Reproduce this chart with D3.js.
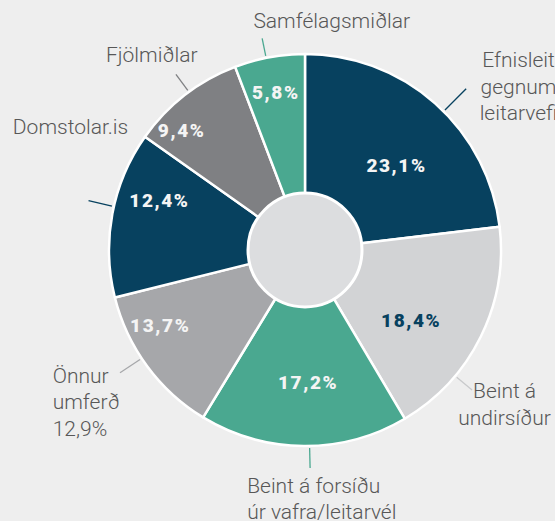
<!DOCTYPE html>
<html>
<head>
<meta charset="utf-8">
<script src="https://cdn.jsdelivr.net/npm/d3@7"></script>
<style>
  html, body { margin: 0; padding: 0; background: #eeeeee; }
  #chart { width: 555px; height: 521px; overflow: hidden; }
</style>
</head>
<body>
<div id="chart"></div>
<script>
// slice data, clockwise from the top
var categories = ["Efnisleit gegnum leitarvefi", "Beint á undirsíður", "Beint á forsíðu úr vafra/leitarvél",
                  "Önnur umferð", "Domstolar.is", "Fjölmiðlar", "Samfélagsmiðlar"];
// slice sizes as drawn in the picture (the 4th and 5th wedges carry swapped labels there)
var values = [23.1, 18.4, 17.2, 12.4, 13.7, 9.4, 5.8];
var valueLabels = ["23,1%", "18,4%", "17,2%", "13,7%", "12,4%", "9,4%", "5,8%"];
// outside label lines, as printed
var outsideLabels = [
    ["Efnisleit", "gegnum", "leitarvefi"],
    ["Beint á", "undirsíður"],
    ["Beint á forsíðu", "úr vafra/leitarvél"],
    ["Önnur", "umferð", "12,9%"],
    ["Domstolar.is"],
    ["Fjölmiðlar"],
    ["Samfélagsmiðlar"]
];

var colors = ["#07415f", "#d2d3d5", "#4aa890", "#a6a7aa", "#07415f", "#7f8083", "#4aa890"];
var pctColors = ["#f4f4f4", "#07415f", "#f4f4f4", "#f4f4f4", "#f4f4f4", "#f4f4f4", "#f4f4f4"];
var leadColors = ["#07415f", "#c8c9cb", "#4aa890", "#a6a7aa", "#07415f", "#7f8083", "#4aa890"];

// layout tweaks (degrees / px)
var pctShift = [5.5, 7, -1.7, 9, 8.4, -8, 0];
var pctRadius = [125, 127, 132, 163, 154, 172, 161];
var leadShift = [3.4, 13.7, -1.7, 2.8, 2.2, 1.5, -1];
var leadLen = [228, 218, 218, 222, 222, 218, 216];
var labelOff = [
    {dx: 58, dy: -27, anchor: "middle"},
    {dx: 31, dy: 7, anchor: "middle"},
    {dx: -63, dy: 23, anchor: "start"},
    {dx: -69, dy: 11, anchor: "start"},
    {dx: -20, dy: -67, anchor: "middle"},
    {dx: -23, dy: -11, anchor: "middle"},
    {dx: -8, dy: -6, anchor: "start"}
];

var W = 555, H = 521;
var cx = 305, cy = 250;
var R = 196, r0 = 55;

var svg = d3.select("#chart")
        .append("svg")
        .attr("width", W)
        .attr("height", H);

svg.append("rect")
        .attr("width", W)
        .attr("height", H)
        .attr("fill", "#eeeeee");

var pie = d3.pie()
        .value((d) => d)
        .sort(null)
        .startAngle(0)
        .endAngle(2 * Math.PI);

var arcs = pie(values);

var arc = d3.arc()
        .innerRadius(r0)
        .outerRadius(R);

var g = svg.append("g")
        .attr("transform", "translate(" + cx + "," + cy + ")");

g.selectAll("path.slice")
        .data(arcs)
        .enter()
        .append("path")
        .attr("class", "slice")
        .attr("d", arc)
        .attr("fill", (d, i) => colors[i])
        .attr("stroke", "#ffffff")
        .attr("stroke-width", 2.5)
        .attr("stroke-linejoin", "round");

// centre disc
g.append("circle")
        .attr("r", 57)
        .attr("fill", "#dcdddf")
        .attr("stroke", "#ffffff")
        .attr("stroke-width", 3);

function polar(angleDeg, rad) {
    var a = angleDeg * Math.PI / 180;
    return [rad * Math.sin(a), -rad * Math.cos(a)];
}

function midDeg(d) {
    return (d.startAngle + d.endAngle) / 2 * 180 / Math.PI;
}

// percentage labels
g.selectAll("text.pct")
        .data(arcs)
        .enter()
        .append("text")
        .attr("class", "pct")
        .attr("transform", (d, i) => {
            var p = polar(midDeg(d) + pctShift[i], pctRadius[i]);
            return "translate(" + p[0] + "," + p[1] + ")";
        })
        .attr("text-anchor", "middle")
        .attr("dy", "0.36em")
        .style("font-family", "Roboto, sans-serif")
        .style("font-weight", 900)
        .style("font-size", "19px")
        .style("letter-spacing", "1.6px")
        .attr("fill", (d, i) => pctColors[i])
        .text((d, i) => valueLabels[i]);

// leader lines
g.selectAll("line.lead")
        .data(arcs)
        .enter()
        .append("line")
        .attr("class", "lead")
        .each(function (d, i) {
            var a = midDeg(d) + leadShift[i];
            var p1 = polar(a, R + 2);
            var p2 = polar(a, leadLen[i]);
            d3.select(this)
                    .attr("x1", p1[0]).attr("y1", p1[1])
                    .attr("x2", p2[0]).attr("y2", p2[1]);
        })
        .attr("stroke", (d, i) => leadColors[i])
        .attr("stroke-width", 1.3);

// outside labels
g.selectAll("text.outside")
        .data(arcs)
        .enter()
        .append("text")
        .attr("class", "outside")
        .each(function (d, i) {
            var end = polar(midDeg(d) + leadShift[i], 220);
            var x = end[0] + labelOff[i].dx;
            var y = end[1] + labelOff[i].dy;
            var t = d3.select(this)
                    .attr("text-anchor", labelOff[i].anchor);
            outsideLabels[i].forEach((line, k) => {
                t.append("tspan")
                        .attr("x", x)
                        .attr("y", y + k * 26.5)
                        .text(line);
            });
        })
        .style("font-family", "Roboto, sans-serif")
        .style("font-weight", 300)
        .style("font-size", "21px")
        .attr("fill", "#575757");
</script>
</body>
</html>
